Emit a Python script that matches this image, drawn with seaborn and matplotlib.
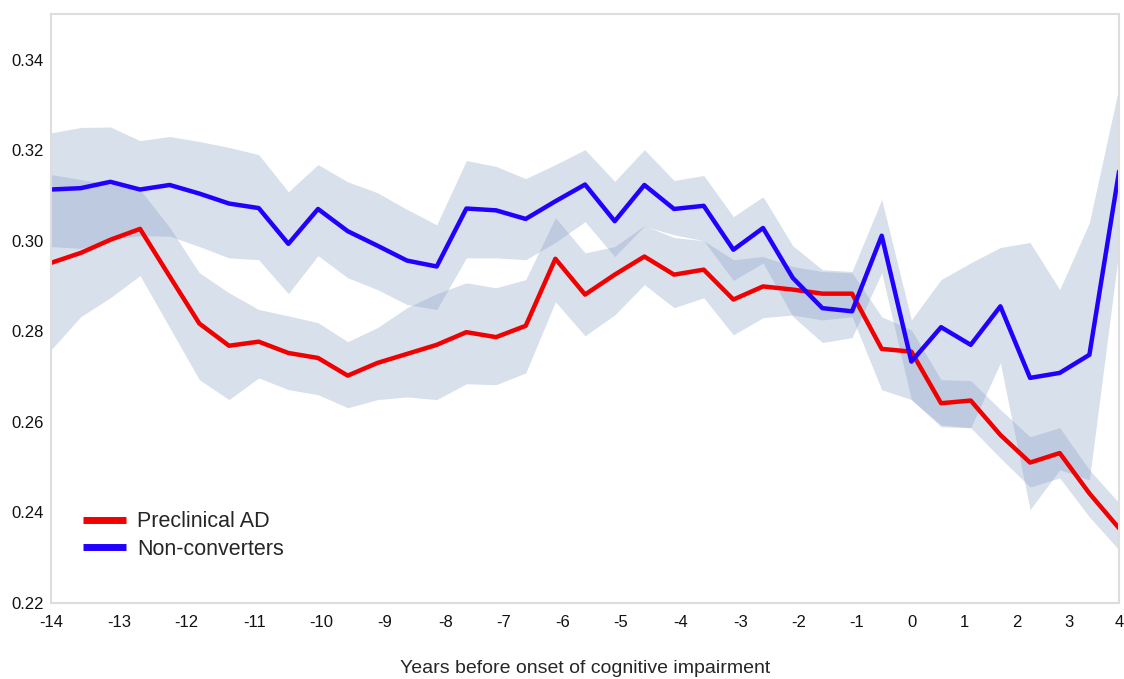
import numpy as np
import pandas as pd
import matplotlib
matplotlib.use("Agg")
import matplotlib.pyplot as plt
import seaborn as sns

# sample index along the time axis (points are evenly spaced on screen)
step = np.arange(37)

# year tick labels and where they sit along the sample index
year_labels = ["-14", "-13", "-12", "-11", "-10", "-9", "-8", "-7", "-6", "-5",
               "-4", "-3", "-2", "-1", "0", "1", "2", "3", "4"]
year_pos = [0, 2.30, 4.56, 6.86, 9.12, 11.25, 13.31, 15.24, 17.23, 19.19,
            21.22, 23.24, 25.20, 27.16, 29.02, 30.78, 32.57, 34.32, 36.0]

preclinical = [0.2951, 0.2973, 0.3002, 0.3026, 0.2921, 0.2817, 0.2768, 0.2777, 0.2752, 0.2741,
               0.2702, 0.2730, 0.2750, 0.2770, 0.2798, 0.2787, 0.2812, 0.2960, 0.2881, 0.2925,
               0.2965, 0.2925, 0.2936, 0.2870, 0.2899, 0.2892, 0.2883, 0.2883, 0.2761, 0.2755,
               0.2641, 0.2647, 0.2571, 0.2510, 0.2531, 0.2442, 0.2365]
preclinical_hi = [0.3146, 0.3135, 0.3124, 0.3113, 0.3029, 0.2929, 0.2885, 0.2848, 0.2834, 0.2819,
                  0.2777, 0.2808, 0.2852, 0.2883, 0.2907, 0.2896, 0.2914, 0.3051, 0.2973, 0.2987,
                  0.3033, 0.3007, 0.3000, 0.2958, 0.2965, 0.2943, 0.2932, 0.2929, 0.2832, 0.2803,
                  0.2693, 0.2691, 0.2627, 0.2567, 0.2587, 0.2494, 0.2421]
preclinical_lo = [0.2759, 0.2832, 0.2874, 0.2923, 0.2808, 0.2693, 0.2649, 0.2697, 0.2671, 0.2660,
                  0.2631, 0.2649, 0.2655, 0.2649, 0.2684, 0.2682, 0.2708, 0.2865, 0.2790, 0.2836,
                  0.2903, 0.2852, 0.2874, 0.2792, 0.2830, 0.2836, 0.2825, 0.2832, 0.2671, 0.2649,
                  0.2589, 0.2587, 0.2520, 0.2456, 0.2476, 0.2390, 0.2317]

nonconv = [0.3113, 0.3116, 0.3130, 0.3113, 0.3123, 0.3104, 0.3082, 0.3072, 0.2993, 0.3070,
           0.3021, 0.2989, 0.2956, 0.2943, 0.3071, 0.3067, 0.3048, 0.3087, 0.3124, 0.3043,
           0.3123, 0.3070, 0.3077, 0.2980, 0.3028, 0.2918, 0.2851, 0.2844, 0.3011, 0.2733,
           0.2809, 0.2770, 0.2855, 0.2697, 0.2708, 0.2748, 0.3153]
nonconv_hi = [0.3238, 0.3250, 0.3251, 0.3221, 0.3230, 0.3219, 0.3206, 0.3190, 0.3108, 0.3168,
              0.3130, 0.3106, 0.3069, 0.3035, 0.3177, 0.3164, 0.3137, 0.3168, 0.3201, 0.3131,
              0.3201, 0.3133, 0.3144, 0.3053, 0.3097, 0.2989, 0.2936, 0.2932, 0.3091, 0.2825,
              0.2914, 0.2951, 0.2985, 0.2996, 0.2892, 0.3040, 0.3340]
nonconv_lo = [0.2987, 0.2983, 0.3002, 0.3011, 0.3010, 0.2987, 0.2962, 0.2958, 0.2883, 0.2967,
              0.2918, 0.2892, 0.2859, 0.2848, 0.2962, 0.2962, 0.2958, 0.2996, 0.3042, 0.2965,
              0.3032, 0.3013, 0.3000, 0.2912, 0.2951, 0.2833, 0.2775, 0.2786, 0.2929, 0.2649,
              0.2593, 0.2587, 0.2730, 0.2406, 0.2494, 0.2472, 0.2980]

df = pd.DataFrame({
    "step": np.concatenate([step, step]),
    "value": preclinical + nonconv,
    "group": ["Preclinical AD"] * 37 + ["Non-converters"] * 37,
})

sns.set_style("white")
plt.rcParams["font.family"] = ["Liberation Sans", "DejaVu Sans"]

fig = plt.figure(figsize=(11.24, 6.79), dpi=100)
ax = fig.add_axes([0.0454, 0.112, 0.9502, 0.867])

band = (0.50, 0.60, 0.76)
ax.fill_between(step, preclinical_lo, preclinical_hi, color=band, alpha=0.3, lw=0)
ax.fill_between(step, nonconv_lo, nonconv_hi, color=band, alpha=0.3, lw=0)

sns.lineplot(data=df, x="step", y="value", hue="group",
             palette={"Preclinical AD": "#f00000", "Non-converters": "#2200ff"},
             linewidth=3.2, ax=ax)

ax.set_xlim(0, 36)
ax.set_ylim(0.22, 0.35)
ax.set_xticks(year_pos)
ax.set_xticklabels(year_labels)
ax.set_yticks([0.22, 0.24, 0.26, 0.28, 0.30, 0.32, 0.34])
ax.set_yticklabels(["0.22", "0.24", "0.26", "0.28", "0.30", "0.32", "0.34"])
ax.tick_params(axis="both", length=0, labelsize=12, colors="#111111")
ax.tick_params(axis="x", pad=9)
ax.tick_params(axis="y", pad=5)
ax.set_xlabel("Years before onset of cognitive impairment", fontsize=14, labelpad=21)
ax.set_ylabel("")

for s in ax.spines.values():
    s.set_color("#dddddd")
    s.set_linewidth(1.5)

leg = ax.legend(loc="center left", bbox_to_anchor=(0.030, 0.1146), frameon=False,
                fontsize=15.5, handlelength=2.0, handletextpad=0.5, labelspacing=0.3,
                borderpad=0, borderaxespad=0)
for line in leg.get_lines():
    line.set_linewidth(5)
    line.set_solid_capstyle("butt")

fig.savefig("out.png", dpi=100)
